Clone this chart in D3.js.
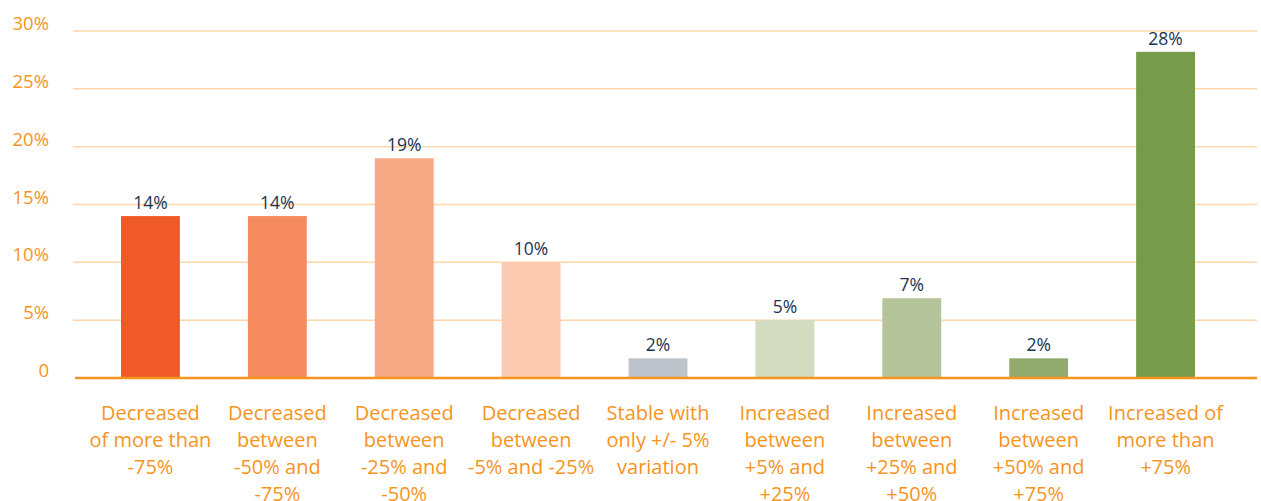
<!DOCTYPE html>
<html>
<head>
<meta charset="utf-8">
<script src="https://cdn.jsdelivr.net/npm/d3@7"></script>
<style>
  body { margin: 0; background: #fff; }
  svg text { font-family: "Open Sans", Lato, sans-serif; }
</style>
</head>
<body>
<div class="BarChart"></div>
<script>
// categories, split into the lines shown under each bar
const categories = [
  ["Decreased", "of more than", "-75%"],
  ["Decreased", "between", "-50% and", "-75%"],
  ["Decreased", "between", "-25% and", "-50%"],
  ["Decreased", "between", "-5% and -25%"],
  ["Stable with", "only +/- 5%", "variation"],
  ["Increased", "between", "+5% and", "+25%"],
  ["Increased", "between", "+25% and", "+50%"],
  ["Increased", "between", "+50% and", "+75%"],
  ["Increased of", "more than", "+75%"]
];
const values = [14, 14, 19, 10, 1.7, 5, 6.9, 1.7, 28.2];
const valueLabels = ["14%", "14%", "19%", "10%", "2%", "5%", "7%", "2%", "28%"];
const barColors = ["#f05a28", "#f48a5e", "#f7a986", "#fbcab0", "#bcc3cb", "#d3dbc0", "#b5c49a", "#93aa6e", "#769b4b"];
const yTicks = [0, 5, 10, 15, 20, 25, 30];

const width = 1261, height = 501;
const orange = "#f7941d";

const svg = d3.select(".BarChart")
  .append("svg")
  .attr("width", width)
  .attr("height", height);

const x = d3.scaleBand()
  .domain(d3.range(categories.length))
  .range([87, 1229])
  .paddingInner(0.536)
  .paddingOuter(0.268);

const y = d3.scaleLinear()
  .domain([0, 30])
  .range([378, 31]);

// gridlines
svg.append("g")
  .selectAll("line")
  .data(yTicks.filter(d => d > 0))
  .enter()
  .append("line")
  .attr("x1", 73)
  .attr("x2", 1257)
  .attr("y1", d => y(d))
  .attr("y2", d => y(d))
  .attr("stroke", "#fdd6a9")
  .attr("stroke-width", 1.5);

// y tick labels
svg.append("g")
  .selectAll("text")
  .data(yTicks)
  .enter()
  .append("text")
  .attr("x", 49)
  .attr("y", d => y(d) - 1)
  .attr("text-anchor", "end")
  .attr("fill", orange)
  .attr("font-size", 18.5)
  .text(d => d === 0 ? "0" : d + "%");

// bars
svg.append("g")
  .selectAll("rect")
  .data(values)
  .enter()
  .append("rect")
  .attr("x", (d, i) => x(i))
  .attr("y", d => y(d))
  .attr("width", x.bandwidth())
  .attr("height", d => y(0) - y(d))
  .attr("fill", (d, i) => barColors[i]);

// baseline
svg.append("line")
  .attr("x1", 75)
  .attr("x2", 1257)
  .attr("y1", y(0))
  .attr("y2", y(0))
  .attr("stroke", orange)
  .attr("stroke-width", 2.5);

// value labels
svg.append("g")
  .selectAll("text")
  .data(values)
  .enter()
  .append("text")
  .attr("x", (d, i) => x(i) + x.bandwidth() / 2)
  .attr("y", d => y(d) - 7)
  .attr("text-anchor", "middle")
  .attr("fill", "#1b3350")
  .attr("font-size", 17.5)
  .text((d, i) => valueLabels[i]);

// category labels
const cat = svg.append("g")
  .selectAll("text")
  .data(categories)
  .enter()
  .append("text")
  .attr("text-anchor", "middle")
  .attr("fill", orange)
  .attr("font-size", 20);

cat.selectAll("tspan")
  .data((d, i) => d.map(line => ({ line, i })))
  .enter()
  .append("tspan")
  .attr("x", d => x(d.i) + x.bandwidth() / 2)
  .attr("y", (d, j) => 420 + j * 27)
  .text(d => d.line);
</script>
</body>
</html>
